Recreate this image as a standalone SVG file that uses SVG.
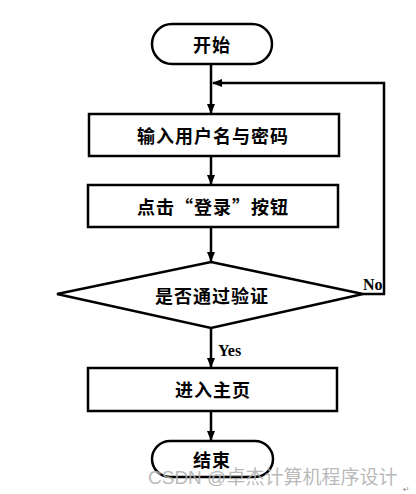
<svg xmlns="http://www.w3.org/2000/svg" width="416" height="494" viewBox="0 0 416 494">
<defs>
<marker id="arr" markerWidth="10" markerHeight="10" refX="9" refY="5" orient="auto" markerUnits="userSpaceOnUse">
<path d="M0,1 L10,5 L0,9 Z" fill="#000"/>
</marker>
<style>
.shape{fill:#fff;stroke:#000;stroke-width:2.5}
.lbl{font-family:"Noto Sans CJK SC","Noto Sans",sans-serif;font-weight:bold;font-size:18px;text-anchor:middle;dominant-baseline:central;fill:#000;letter-spacing:1px}
.en{font-family:"Liberation Serif",serif;font-weight:bold;font-size:16px;fill:#000}
.conn{fill:none;stroke:#000;stroke-width:2.5}
</style>
</defs>
<rect width="416" height="494" fill="#fff"/>
<g id="connectors">
<line class="conn" x1="211" y1="64" x2="211" y2="113" marker-end="url(#arr)"/>
<line class="conn" x1="211" y1="157" x2="211" y2="184" marker-end="url(#arr)"/>
<line class="conn" x1="211" y1="228" x2="211" y2="261" marker-end="url(#arr)"/>
<line class="conn" x1="211" y1="328" x2="211" y2="367" marker-end="url(#arr)"/>
<line class="conn" x1="211" y1="411" x2="211" y2="440" marker-end="url(#arr)"/>
<polyline class="conn" points="363,294 384,294 384,83 213,83" marker-end="url(#arr)"/>
<text class="en" x="363" y="290">No</text>
<text class="en" x="218" y="356" font-size="17">Yes</text>
</g>
<g id="start">
<rect class="shape" x="152" y="24" width="120" height="40" rx="20" ry="20"/>
<text class="lbl" x="212" y="44">开始</text>
</g>
<g id="input">
<rect class="shape" x="89" y="114" width="250" height="42"/>
<text class="lbl" x="213" y="135">输入用户名与密码</text>
</g>
<g id="click">
<rect class="shape" x="88" y="185" width="250" height="42"/>
<text class="lbl" x="213" y="206">点击“登录”按钮</text>
</g>
<g id="verify">
<polygon class="shape" points="211,262 363,294 211,328 57,294"/>
<text class="lbl" x="212" y="295">是否通过验证</text>
</g>
<g id="home">
<rect class="shape" x="88" y="368" width="249" height="43"/>
<text class="lbl" x="213" y="389">进入主页</text>
</g>
<g id="end">
<rect class="shape" x="152" y="441" width="121" height="36" rx="18" ry="18"/>
<text class="lbl" x="212" y="459">结束</text>
</g>
<text x="148" y="484" font-family="Liberation Sans,'Noto Sans CJK SC',sans-serif" font-size="19" fill="#b0b0b0" fill-opacity="0.9">CSDN @卓杰计算机程序设计</text>
<text x="403" y="492" font-family="DejaVu Sans,sans-serif" font-size="8" fill="#888">↵</text>
</svg>
